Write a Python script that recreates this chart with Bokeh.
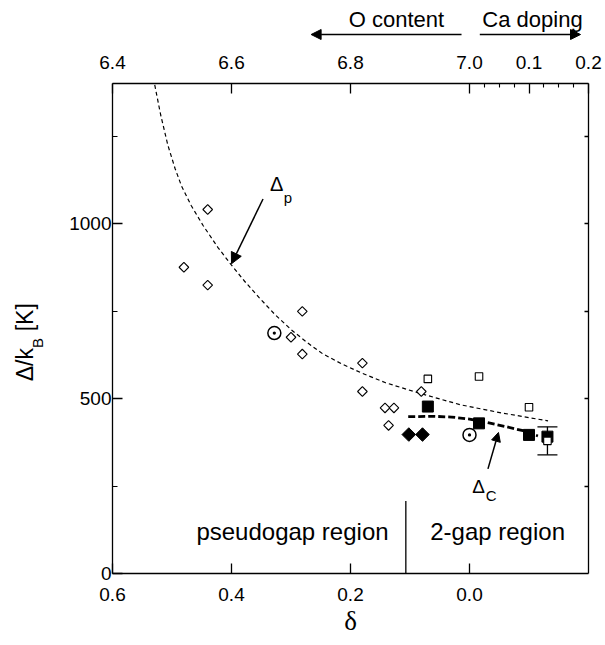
import numpy as np
from bokeh.plotting import figure
from bokeh.layouts import column, row
from bokeh.models import (Range1d, LinearAxis, FixedTicker, Label, Arrow, NormalHead,
                          Whisker, TeeHead, ColumnDataSource)
from bokeh.embed import file_html
from bokeh.resources import INLINE

# ---------------- data ----------------
# open diamonds
od_delta = [0.48, 0.44, 0.44, 0.281, 0.30, 0.281, 0.18, 0.18, 0.142, 0.127, 0.136, 0.081]
od_gap = [875, 1040, 824, 749, 675, 627, 601, 520, 473, 473, 423, 520]
# filled diamonds
fd_delta = [0.102, 0.079]
fd_gap = [397, 397]
# open circles with dot
oc_delta = [0.328, 0.0]
oc_gap = [687, 396]
# open squares
os_delta = [0.07, -0.016, -0.10, -0.131]
os_gap = [556, 563, 475, 379]
# filled squares
fs_delta = [0.07, -0.016, -0.10, -0.131]
fs_gap = [477, 429, 396, 391]
# error bar
err_delta = [-0.131]
err_low = [339]
err_high = [419]
# Delta_p guide curve
dp_delta = [0.529, 0.519, 0.507, 0.495, 0.484, 0.468, 0.448, 0.423, 0.401, 0.378, 0.354,
            0.327, 0.300, 0.273, 0.247, 0.216, 0.183, 0.141, 0.082, 0.015, -0.053, -0.132]
dp_gap = [1396, 1310, 1224, 1158, 1107, 1052, 995, 932, 883, 835, 789,
          740, 697, 660, 628, 600, 574, 545, 514, 482, 459, 436]
# Delta_c guide curve
dc_delta = [0.103, 0.06, 0.03, 0.0, -0.03, -0.06, -0.09, -0.115]
dc_gap = [448, 449, 447, 441, 431, 420, 408, 393]
# region divider
divider_delta = 0.107
divider_top = 207

# axis ticks
bottom_ticks = [0.6, 0.4, 0.2, 0.0]
bottom_labels = ["0.6", "0.4", "0.2", "0.0"]
left_ticks = [0, 500, 1000]
left_minor = [250, 750, 1250]
right_ticks = [250, 500, 750, 1000, 1250]
o_content_ticks = [6.4, 6.6, 6.8, 7.0]
o_content_labels = ["6.4", "6.6", "6.8", "7.0"]
ca_ticks = [0.1, 0.2]
ca_labels = ["0.1", "0.2"]
ca_minor = [0.025, 0.05, 0.075, 0.125, 0.15, 0.175]

FONT = "Liberation Sans"
BORDER_TOP = 43
BORDER_BOTTOM = 72

# ---------------- main plot ----------------
xr = Range1d(0.6, -0.2)
yrng = Range1d(0, 1400)
p = figure(width=560, height=605, output_backend="svg", toolbar_location=None,
           x_range=xr, y_range=yrng,
           min_border_left=67, min_border_right=17, min_border_top=BORDER_TOP,
           min_border_bottom=BORDER_BOTTOM)
p.outline_line_color = None
p.grid.visible = False
p.background_fill_color = "white"
p.border_fill_color = "white"


def style(ax, tick_in=10, minor_in=5):
    ax.axis_line_color = "black"
    ax.axis_line_width = 1.3
    ax.major_tick_line_color = "black"
    ax.major_tick_line_width = 1.3
    ax.minor_tick_line_color = "black"
    ax.minor_tick_line_width = 1.1
    ax.major_tick_out = 0
    ax.major_tick_in = tick_in
    ax.minor_tick_out = 0
    ax.minor_tick_in = minor_in
    ax.major_label_text_font = FONT
    ax.major_label_text_font_size = "19px"
    ax.major_label_text_color = "black"


# bottom axis
xb = p.xaxis[0]
xb.ticker = FixedTicker(ticks=bottom_ticks, minor_ticks=[])
xb.major_label_overrides = dict(zip(bottom_ticks, bottom_labels))
style(xb)
xb.major_label_standoff = 14
xb.axis_label = "δ"
xb.axis_label_text_font = "Liberation Serif"
xb.axis_label_text_font_size = "27px"
xb.axis_label_text_font_style = "normal"
xb.axis_label_text_color = "black"
xb.axis_label_standoff = 2

# left axis
yl = p.yaxis[0]
yl.ticker = FixedTicker(ticks=left_ticks, minor_ticks=left_minor)
style(yl)
yl.major_label_standoff = 1

# top axis (O content / Ca doping mapped on delta)
top_pos = [7.0 - v for v in o_content_ticks] + [-v for v in ca_ticks]
top_lab = o_content_labels + ca_labels
xt = LinearAxis(ticker=FixedTicker(ticks=top_pos, minor_ticks=[-v for v in ca_minor]),
                major_label_overrides=dict(zip(top_pos, top_lab)))
style(xt, tick_in=10, minor_in=4)
xt.major_label_standoff = 15
p.add_layout(xt, "above")

# right axis (ticks only)
yr = LinearAxis(ticker=FixedTicker(ticks=right_ticks, minor_ticks=[]),
                major_label_overrides={t: "" for t in right_ticks})
style(yr, tick_in=4, minor_in=0)
yr.major_label_standoff = 0
p.add_layout(yr, "right")

# guide curves
p.line(dp_delta, dp_gap, line_color="black", line_width=1.2, line_dash="4 3")
p.line(dc_delta, dc_gap, line_color="black", line_width=2.8, line_dash="7 3")

# divider
p.segment(x0=[divider_delta], y0=[0], x1=[divider_delta], y1=[divider_top],
          line_color="black", line_width=1.3)

# error bar
err_src = ColumnDataSource(dict(x=err_delta, lower=err_low, upper=err_high))
p.add_layout(Whisker(base="x", lower="lower", upper="upper", source=err_src,
                     dimension="height", line_color="black", line_width=1.3,
                     upper_head=TeeHead(size=20, line_width=1.3, line_color="black"),
                     lower_head=TeeHead(size=20, line_width=1.3, line_color="black")))

# markers
p.scatter(od_delta, od_gap, marker="square", angle=np.pi / 4, size=6.8,
          fill_color="white", line_color="black", line_width=1.1)
p.scatter(fd_delta, fd_gap, marker="square", angle=np.pi / 4, size=9.6,
          fill_color="black", line_color="black", line_width=1)
p.scatter(fs_delta, fs_gap, marker="square", size=11,
          fill_color="black", line_color="black", line_width=1)
p.scatter(os_delta, os_gap, marker="square", size=7.5,
          fill_color="white", line_color="black", line_width=1.1)
p.scatter(oc_delta, oc_gap, marker="circle_dot", size=13,
          fill_color=None, line_color="black", line_width=1.5)

# Delta_p annotation
p.add_layout(Label(x=0.324, y=1113, text="Δ", text_font=FONT, text_font_size="20px",
                   text_align="center", text_baseline="middle", text_color="black"))
p.add_layout(Label(x=0.305, y=1075, text="p", text_font=FONT, text_font_size="15px",
                   text_align="center", text_baseline="middle", text_color="black"))
p.add_layout(Arrow(x_start=0.347, y_start=1070, x_end=0.400, y_end=885,
                   line_color="black", line_width=1.5,
                   end=NormalHead(size=11, fill_color="black", line_color="black")))

# Delta_c annotation
p.add_layout(Label(x=-0.0153, y=249, text="Δ", text_font=FONT, text_font_size="19px",
                   text_align="center", text_baseline="middle", text_color="black"))
p.add_layout(Label(x=-0.0363, y=224, text="C", text_font=FONT, text_font_size="15px",
                   text_align="center", text_baseline="middle", text_color="black"))
p.add_layout(Arrow(x_start=-0.031, y_start=299, x_end=-0.0487, y_end=403,
                   line_color="black", line_width=1.5,
                   end=NormalHead(size=9, fill_color="black", line_color="black")))

# region labels
p.add_layout(Label(x=0.136, y=119, text="pseudogap region", text_font=FONT,
                   text_font_size="24px", text_align="right", text_baseline="middle",
                   text_color="black"))
p.add_layout(Label(x=0.066, y=119, text="2-gap region", text_font=FONT,
                   text_font_size="24px", text_align="left", text_baseline="middle",
                   text_color="black"))

# ---------------- top strip: O content / Ca doping ----------------
top = figure(width=605, height=40, output_backend="svg", toolbar_location=None,
             x_range=xr, y_range=Range1d(0, 40),
             x_axis_location=None, y_axis_location=None,
             min_border_left=112, min_border_right=17, min_border_top=0,
             min_border_bottom=0)
top.outline_line_color = None
top.grid.visible = False
top.background_fill_color = "white"
top.border_fill_color = "white"
top.add_layout(Arrow(x_start=0.0134, y_start=6, x_end=0.2662, y_end=6,
                     line_color="black", line_width=1.5,
                     end=NormalHead(size=10, fill_color="black", line_color="black")))
top.add_layout(Arrow(x_start=-0.0173, y_start=6, x_end=-0.1866, y_end=6,
                     line_color="black", line_width=1.5,
                     end=NormalHead(size=10, fill_color="black", line_color="black")))
top.add_layout(Label(x=0.1227, y=21.5, text="O content", text_font=FONT,
                     text_font_size="22px", text_align="center",
                     text_baseline="middle", text_color="black"))
top.add_layout(Label(x=-0.1059, y=21.5, text="Ca doping", text_font=FONT,
                     text_font_size="22px", text_align="center",
                     text_baseline="middle", text_color="black"))

# ---------------- left strip: y axis title  Δ/k_B [K] ----------------
left = figure(width=45, height=605, output_backend="svg", toolbar_location=None,
              x_range=Range1d(0, 45), y_range=yrng,
              x_axis_location=None, y_axis_location=None,
              min_border_left=0, min_border_right=0, min_border_top=BORDER_TOP,
              min_border_bottom=BORDER_BOTTOM)
left.outline_line_color = None
left.grid.visible = False
left.background_fill_color = "white"
left.border_fill_color = "white"
left.add_layout(Label(x=24, y=549, text="Δ/k", angle=np.pi / 2, text_font=FONT,
                      text_font_size="23px", text_align="left",
                      text_baseline="middle", text_color="black"))
left.add_layout(Label(x=36.5, y=644, text="B", angle=np.pi / 2, text_font=FONT,
                      text_font_size="15px", text_align="left",
                      text_baseline="middle", text_color="black"))
left.add_layout(Label(x=24, y=692, text="[K]", angle=np.pi / 2, text_font=FONT,
                      text_font_size="23px", text_align="left",
                      text_baseline="middle", text_color="black"))

layout = column(top, row(left, p, spacing=0), spacing=0)
open("out.html", "w").write(file_html(layout, INLINE))
